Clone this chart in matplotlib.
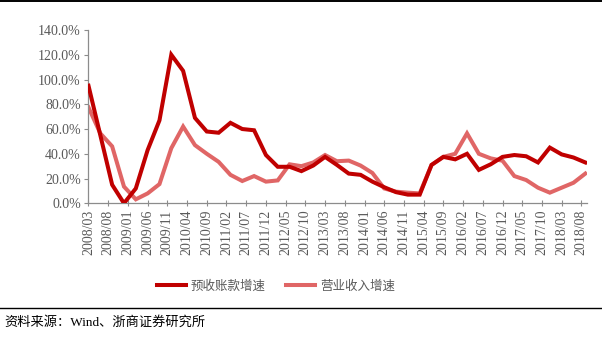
import numpy as np
import pandas as pd
import matplotlib
matplotlib.use('Agg')
import matplotlib.pyplot as plt
from matplotlib.lines import Line2D

plt.rcParams['font.family'] = ['Liberation Serif', 'Noto Sans CJK SC', 'DejaVu Sans']

# quarterly observations, 2008Q1 - 2018Q3
quarters = pd.period_range('2008-03', '2018-09', freq='Q').strftime('%Y/%m').tolist()

# 预收账款增速 (%)
advance_growth = [95, 55, 15, 0, 12, 43, 67, 120, 107, 69, 58,
                  57, 65, 60, 59, 39, 29.5, 29.5, 26, 30.5, 37.5,
                  31, 24, 23, 17.5, 13, 9, 7, 7, 31, 37.5,
                  35.5, 40, 27, 31.5, 37.5, 39, 38, 33, 45, 39.5,
                  37, 33]
# 营业收入增速 (%)
revenue_growth = [77.5, 56.5, 46, 13.5, 3.2, 8, 15.5, 44.5, 62, 47, 40,
                  33.5, 23, 18, 22, 17.5, 18.5, 31.5, 30, 33, 39,
                  34, 34.5, 30.5, 24.5, 12, 9.4, 8.6, 8, 31, 37.5,
                  40, 56.5, 40, 36.3, 34.4, 22, 18.8, 12.6, 8.6, 12.6,
                  16.6, 24]

tick_labels = ['2008/03', '2008/08', '2009/01', '2009/06', '2009/11', '2010/04',
               '2010/09', '2011/02', '2011/07', '2011/12', '2012/05', '2012/10',
               '2013/03', '2013/08', '2014/01', '2014/06', '2014/11', '2015/04',
               '2015/09', '2016/02', '2016/07', '2016/12', '2017/05', '2017/10',
               '2018/03', '2018/08']
yticks = [0, 20, 40, 60, 80, 100, 120, 140]


def month_index(s):
    y, m = s.split('/')
    return (int(y) - 2008) * 12 + int(m) - 3


x = [month_index(q) for q in quarters]
xt = [month_index(t) for t in tick_labels]

axis_gray = '#8c8c8c'
text_gray = '#595959'
red = '#C00000'
pink = '#E06666'

fig = plt.figure(figsize=(6.02, 3.37), dpi=100)
ax = fig.add_axes([87.7 / 602, 1 - 203.3 / 337, (586.5 - 87.7) / 602, (203.3 - 30) / 337])

ax.plot(x, advance_growth, color=red, lw=2.9, solid_joinstyle='miter', zorder=3)
ax.plot(x, revenue_growth, color=pink, lw=2.9, solid_joinstyle='miter', zorder=2)

ax.set_xlim(-0.2, 126.3)
ax.set_ylim(0, 140)
ax.set_yticks(yticks)
ax.set_yticklabels([f'{v:.1f}%' for v in yticks], fontsize=10, color=text_gray)
ax.set_xticks(xt)
ax.set_xticklabels(tick_labels, rotation=90, fontsize=10, color=text_gray)
ax.tick_params(axis='both', color=axis_gray, length=3, width=0.8, pad=2)
ax.tick_params(axis='x', direction='inout', length=5)

for side in ['top', 'right']:
    ax.spines[side].set_visible(False)
for side in ['left', 'bottom']:
    ax.spines[side].set_color(axis_gray)
    ax.spines[side].set_linewidth(0.9)

handles = [Line2D([], [], color=red, lw=2.9), Line2D([], [], color=pink, lw=2.9)]
fig.legend(handles, ['预收账款增速', '营业收入增速'], loc='center',
           bbox_to_anchor=(276 / 602, 1 - 286 / 337), ncol=2, frameon=False,
           prop={'family': ['Noto Sans CJK SC', 'DejaVu Sans'], 'size': 9},
           labelcolor=text_gray, handlelength=2.3, handletextpad=0.4, columnspacing=1.6)

# rules at top and above the source line
fig.add_artist(Line2D([0, 1], [1 - 0.8 / 337, 1 - 0.8 / 337], color='black', lw=1.4))
fig.add_artist(Line2D([0, 1], [1 - 308 / 337, 1 - 308 / 337], color='black', lw=1.0))

fig.text(4 / 602, 1 - 322 / 337, '资料来源：Wind、浙商证券研究所', ha='left', va='center',
         fontsize=9.5, color='black')

fig.savefig('out.png', dpi=100)
